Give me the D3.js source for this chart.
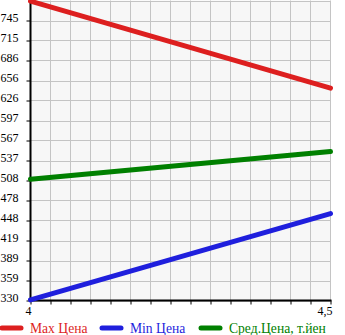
<!DOCTYPE html>
<html><head><meta charset="utf-8">
<script src="https://cdn.jsdelivr.net/npm/d3@7"></script>
<style>body{margin:0;background:#fff}svg{display:block}</style>
</head><body>
<svg id="c" width="345" height="335"></svg>
<script>
const xValues = [4, 4.5];
const xTickLabels = ["4", "4,5"];
const maxPrice = [774, 645];
const minPrice = [331, 459];
const avgPrice = [510, 551];
const seriesNames = ["Max Цена", "Min Цена", "Сред.Цена, т.йен"];
const seriesColors = ["#dd1f1f", "#1f1fdd", "#008000"];
const yDomain = [330, 775];

const svg = d3.select("#c");
const L = 30.5, R = 330.5, T = 0.5, B = 300.5;
const FONT = "Liberation Serif";
const x = d3.scaleLinear().domain(d3.extent(xValues)).range([L, R]);
const y = d3.scaleLinear().domain(yDomain).range([B, T]);

svg.append("rect").attr("x", L).attr("y", T).attr("width", R - L).attr("height", B - T).attr("fill", "#f7f7f7");

const g = svg.append("g");
for (let i = 1; i <= 15; i++) {
  g.append("line").attr("x1", L + i * 20).attr("x2", L + i * 20).attr("y1", T).attr("y2", B).attr("stroke", "#c4c4c4").attr("stroke-width", 1);
}
const yTicks = d3.range(16).map(i => yDomain[0] + i * (yDomain[1] - yDomain[0]) / 15);
yTicks.forEach(v => {
  g.append("line").attr("x1", L).attr("x2", R).attr("y1", Math.round(y(v)) + 0.5).attr("y2", Math.round(y(v)) + 0.5).attr("stroke", "#c4c4c4").attr("stroke-width", 1);
});

// y axis
const yAxis = d3.axisLeft(y).tickValues(yTicks.slice(0, 15)).tickSize(4).tickFormat(v => Math.floor(v + 1e-9));
const ya = svg.append("g").attr("transform", `translate(${L},0)`).call(yAxis);
ya.select(".domain").remove();
ya.selectAll("text").attr("font-family", FONT).attr("font-size", 12).attr("fill", "#000").attr("x", -12).attr("dy", "0.05em");
svg.append("line").attr("x1", L).attr("x2", L).attr("y1", 0).attr("y2", B + 1).attr("stroke", "#000").attr("stroke-width", 2);

// x axis
const xMinor = d3.range(16).map(i => xValues[0] + i * (xValues[1] - xValues[0]) / 15);
const xa = svg.append("g").attr("transform", `translate(0,${B})`).call(d3.axisBottom(x).tickValues(xMinor).tickSize(4).tickFormat(""));
xa.select(".domain").remove();
svg.append("line").attr("x1", L - 1).attr("x2", R + 1).attr("y1", B).attr("y2", B).attr("stroke", "#000").attr("stroke-width", 2);
xValues.forEach((v, i) => {
  svg.append("text").attr("x", i === 0 ? x(v) - 2 : x(v) + 2).attr("y", 315).attr("text-anchor", i === 0 ? "middle" : "end")
    .attr("font-family", FONT).attr("font-size", 12).text(xTickLabels[i]);
});

// lines
const line = d3.line().x((d, i) => x(xValues[i])).y(d => y(d));
[maxPrice, minPrice, avgPrice].forEach((s, k) => {
  svg.append("path").datum(s).attr("d", line).attr("fill", "none").attr("stroke", seriesColors[k]).attr("stroke-width", 5).attr("stroke-linecap", "round");
});

// legend
const legX = [0, 100, 199];
seriesNames.forEach((n, k) => {
  svg.append("line").attr("x1", legX[k] + 2).attr("x2", legX[k] + 21).attr("y1", 328).attr("y2", 328).attr("stroke", seriesColors[k]).attr("stroke-width", 5).attr("stroke-linecap", "round");
  svg.append("text").attr("x", legX[k] + 30).attr("y", 333).attr("font-family", FONT).attr("font-size", 13.6).attr("fill", seriesColors[k]).text(n);
});
</script>
</body></html>
